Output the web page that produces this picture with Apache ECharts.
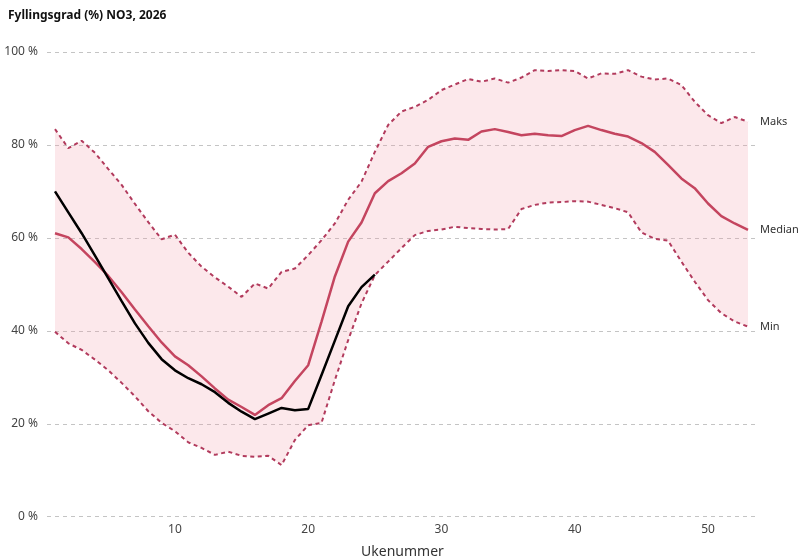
<!DOCTYPE html>
<html>
<head>
<meta charset="utf-8">
<script src="https://cdn.jsdelivr.net/npm/echarts@6/dist/echarts.min.js"></script>
<style>html,body{margin:0;padding:0;background:#fff}#c{width:800px;height:558px}</style>
</head>
<body>
<div id="c"></div>
<script>
const weeks = Array.from({length: 53}, (_, i) => i + 1);
const xTicks = [10, 20, 30, 40, 50];
const maksValues = [83.4, 79.3, 80.9, 78.3, 74.8, 71.4, 67.3, 63.4, 59.7, 60.7, 56.8, 53.8, 51.5, 49.5, 47.3, 50.2, 49.1, 52.7, 53.4, 56.3, 59.5, 63.1, 68.2, 72.1, 78.5, 84.3, 87.2, 88.2, 89.7, 91.8, 93.0, 94.2, 93.6, 94.3, 93.4, 94.5, 96.1, 95.9, 96.1, 95.9, 94.3, 95.4, 95.3, 96.1, 94.7, 94.1, 94.3, 92.9, 89.3, 86.4, 84.7, 86.0, 85.0];
const medianValues = [61.0, 60.1, 57.6, 54.8, 51.8, 48.3, 44.6, 41.0, 37.5, 34.5, 32.6, 30.2, 27.6, 25.2, 23.6, 21.9, 24.0, 25.5, 29.2, 32.6, 42.0, 51.7, 59.2, 63.3, 69.6, 72.2, 73.9, 76.0, 79.6, 80.8, 81.4, 81.1, 82.9, 83.4, 82.8, 82.1, 82.4, 82.1, 81.9, 83.2, 84.1, 83.2, 82.4, 81.8, 80.4, 78.5, 75.7, 72.8, 70.7, 67.4, 64.7, 63.1, 61.7];
const minValues = [39.8, 37.3, 35.9, 33.8, 31.5, 28.8, 25.9, 22.7, 20.2, 18.4, 16.0, 14.8, 13.3, 14.0, 13.1, 12.9, 13.1, 11.1, 16.5, 19.7, 20.2, 29.4, 38.0, 45.9, 52.0, 54.9, 57.8, 60.6, 61.5, 61.8, 62.4, 62.1, 61.9, 61.8, 61.9, 66.2, 67.1, 67.6, 67.7, 67.9, 67.8, 67.1, 66.4, 65.5, 61.2, 59.8, 59.4, 54.9, 50.6, 46.6, 43.8, 42.0, 40.9];
const year2026Values = [70.0, 65.5, 61.0, 56.2, 51.3, 46.4, 41.6, 37.4, 33.9, 31.5, 29.8, 28.5, 26.8, 24.5, 22.6, 21.0, 22.2, 23.4, 22.9, 23.2, 30.5, 37.9, 45.3, 49.4, 52.1];

const pairs = arr => arr.map((v, i) => [weeks[i], v]);

const FONT = '"Noto Sans", "Open Sans", sans-serif';
const dashColor = '#b23b5d';
const medColor = '#c4455f';

const chart = echarts.init(document.getElementById('c'), null, {renderer: 'canvas'});
chart.setOption({
  animation: false,
  backgroundColor: '#fff',
  textStyle: {fontFamily: FONT},
  title: {
    text: 'Fyllingsgrad (%) NO3, 2026',
    left: 3, top: 5,
    textStyle: {fontFamily: FONT, fontSize: 12, fontWeight: 'bold', color: '#111'}
  },
  grid: {left: 47, right: 42, top: 52, bottom: 41.3, containLabel: false, outerBoundsMode: 'none'},
  xAxis: {
    type: 'value', min: 0.4, max: 53.75,
    name: 'Ukenummer', nameLocation: 'middle', nameGap: 28,
    nameTextStyle: {fontFamily: FONT, fontSize: 14, color: '#333'},
    axisLine: {show: false}, axisTick: {show: false}, splitLine: {show: false},
    axisLabel: {customValues: xTicks, fontFamily: FONT, fontSize: 12, color: '#444', margin: 7}
  },
  yAxis: {
    type: 'value', min: 0, max: 100, interval: 20,
    axisLine: {show: false}, axisTick: {show: false},
    axisLabel: {formatter: '{value} %', fontFamily: FONT, fontSize: 12, color: '#444', margin: 9},
    splitLine: {show: true, lineStyle: {color: '#c4c4c4', type: [4, 4], width: 1}}
  },
  series: [
    {name: 'band', type: 'custom', silent: true, z: 1,
     data: [0],
     renderItem: function (params, api) {
       const pts = [];
       for (let i = 0; i < weeks.length; i++) pts.push(api.coord([weeks[i], maksValues[i]]));
       for (let i = weeks.length - 1; i >= 0; i--) pts.push(api.coord([weeks[i], minValues[i]]));
       return {type: 'polygon', shape: {points: pts}, style: {fill: 'rgba(240,150,165,0.22)'}};
     }},
    {name: 'Maks', type: 'line', data: pairs(maksValues), symbol: 'none', z: 3,
     lineStyle: {color: dashColor, width: 2, type: [4, 3.5]},
     endLabel: {show: true, formatter: 'Maks', distance: 12, fontFamily: FONT, fontSize: 11, color: '#333'}},
    {name: 'Min', type: 'line', data: pairs(minValues), symbol: 'none', z: 3,
     lineStyle: {color: dashColor, width: 2, type: [4, 3.5]},
     endLabel: {show: true, formatter: 'Min', distance: 12, fontFamily: FONT, fontSize: 11, color: '#333'}},
    {name: 'Median', type: 'line', data: pairs(medianValues), symbol: 'none', z: 4,
     lineStyle: {color: medColor, width: 2.5},
     endLabel: {show: true, formatter: 'Median', distance: 12, fontFamily: FONT, fontSize: 11, color: '#333'}},
    {name: '2026', type: 'line', data: pairs(year2026Values), symbol: 'none', z: 5,
     lineStyle: {color: '#000', width: 2.5}}
  ]
});
</script>
</body>
</html>
